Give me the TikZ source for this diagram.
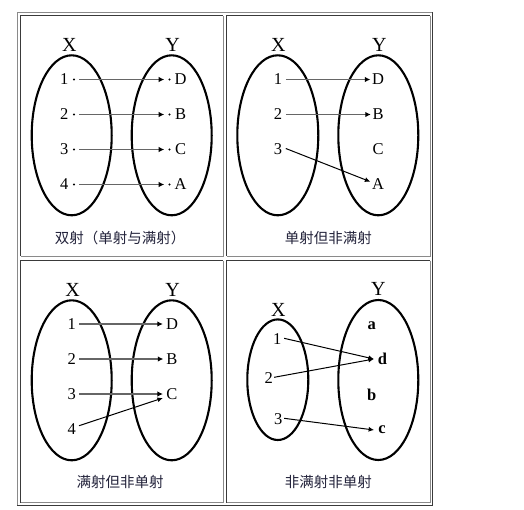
\documentclass[tikz,border=0pt]{standalone}
\usepackage{fontspec}
\setmainfont{Liberation Serif}
\newfontfamily\cjk{Noto Sans CJK SC}
\usetikzlibrary{arrows.meta}
\definecolor{brdlight}{HTML}{8A8A8A}
\definecolor{brddark}{HTML}{3A3A3A}
\definecolor{arrowgray}{HTML}{666666}
\definecolor{capcol}{HTML}{22223A}
\begin{document}
\begin{tikzpicture}[x=1pt,y=-1pt,
  setlbl/.style={font=\fontsize{20}{20}\selectfont, inner sep=0pt},
  elt/.style={font=\fontsize{16.5}{16.5}\selectfont, inner sep=0pt},
  eltb/.style={font=\fontsize{16.5}{16.5}\selectfont\bfseries, inner sep=0pt},
  captxt/.style={font=\cjk\fontsize{14.5}{14.5}\selectfont, text=capcol, inner sep=0pt},
  setell/.style={draw=black, line width=2.1pt},
  garrow/.style={draw=arrowgray, line width=1.7pt, -{Latex[length=5.5pt,width=5.5pt,color=black]}},
  barrow/.style={draw=black, line width=1pt, -{Latex[length=5.5pt,width=5pt]}},
  dotpt/.style={fill=black, circle, inner sep=0pt, minimum size=2.2pt},
  lightline/.style={draw=brdlight, line width=1pt},
  darkline/.style={draw=brddark, line width=1pt}
]
\useasboundingbox (0,0) rectangle (524,509);

% ---------- borders ----------
\draw[lightline] (17,505) -- (17,12) -- (432,12);
\draw[darkline] (432,12) -- (432,505) -- (17,505);
\foreach \xa/\ya/\xb/\yb in {20.5/15.5/223/256, 226.5/15.5/430/256, 20.5/260.5/223/502.5, 226.5/260.5/430/502.5}{
  \draw[darkline] (\xa,\yb) -- (\xa,\ya) -- (\xb,\ya);
  \draw[lightline] (\xb,\ya) -- (\xb,\yb) -- (\xa,\yb);
}

% ---------- panel 1 ----------
\node[setlbl] (aX) at (69.3,45) {X};
\node[setlbl] (aY) at (172.7,45) {Y};
\draw[setell] (71.7,135.3) ellipse [x radius=40, y radius=80];
\draw[setell] (171.7,135.3) ellipse [x radius=40, y radius=80];
\foreach \n/\l/\y in {1/D/79.5, 2/B/114.5, 3/C/149.5, 4/A/184.5}{
  \node[elt] (a\n) at (64.3,\y) {\n};
  \node[elt] (a\l) at (180.5,\y) {\l};
  \node[dotpt] (ap\n) at (74,\y) {};
  \node[dotpt] (aq\n) at (169.5,\y) {};
  \draw[garrow, shorten <=4pt, shorten >=4pt] (ap\n) -- (aq\n);
}
\node[captxt] (acap) at (120,238) {双射（单射与满射）};

% ---------- panel 2 ----------
\node[setlbl] (bX) at (278.3,45) {X};
\node[setlbl] (bY) at (379.3,45) {Y};
\draw[setell] (277.8,135.3) ellipse [x radius=40.5, y radius=80];
\draw[setell] (378.3,135.3) ellipse [x radius=40, y radius=80];
\node[elt] (b1) at (278,79.5) {1};
\node[elt] (b2) at (278,114.5) {2};
\node[elt] (b3) at (278,149.5) {3};
\node[elt] (bD) at (378,79.5) {D};
\node[elt] (bB) at (378,114.5) {B};
\node[elt] (bC) at (378,149.5) {C};
\node[elt] (bA) at (378,184.5) {A};
\draw[garrow] ([xshift=3.5pt]b1.east) -- ([xshift=-1.5pt]bD.west);
\draw[garrow] ([xshift=3.5pt]b2.east) -- ([xshift=-1.5pt]bB.west);
\draw[barrow] ([shift={(3.5,-1)}]b3.east) -- ([shift={(-1.5,-2.8)}]bA.west);
\node[captxt] (bcap) at (328.3,238) {单射但非满射};

% ---------- panel 3 ----------
\node[setlbl] (cX) at (72.7,290) {X};
\node[setlbl] (cY) at (172.7,290) {Y};
\draw[setell] (71.7,380.3) ellipse [x radius=40, y radius=80];
\draw[setell] (171.7,380.3) ellipse [x radius=40, y radius=80];
\node[elt] (c1) at (71.7,324) {1};
\node[elt] (c2) at (71.7,359) {2};
\node[elt] (c3) at (71.7,394) {3};
\node[elt] (c4) at (71.7,429.5) {4};
\node[elt] (cD) at (172,324) {D};
\node[elt] (cB) at (172,359) {B};
\node[elt] (cC) at (172,394) {C};
\draw[garrow] ([xshift=3pt]c1.east) -- ([xshift=-3pt]cD.west);
\draw[garrow] ([xshift=3pt]c2.east) -- ([xshift=-3pt]cB.west);
\draw[garrow] ([xshift=3pt]c3.east) -- ([xshift=-3.4pt]cC.west);
\draw[barrow] ([shift={(3,-3.8)}]c4.east) -- ([shift={(-3.4,4)}]cC.west);
\node[captxt] (ccap) at (120,482.3) {满射但非单射};

% ---------- panel 4 ----------
\node[setlbl] (dX) at (278.3,310) {X};
\node[setlbl] (dY) at (378.3,289.3) {Y};
\draw[setell] (277.8,379.7) ellipse [x radius=30.5, y radius=60.3];
\draw[setell] (378.3,380) ellipse [x radius=40, y radius=80];
\node[elt] (d1) at (277.3,339.3) {1};
\node[elt] (d2) at (268.8,378.3) {2};
\node[elt] (d3) at (278.3,419.3) {3};
\node[eltb] (da) at (371.7,326) {a};
\node[eltb] (dd) at (382.5,359.3) {d};
\node[eltb] (db) at (371.7,395.3) {b};
\node[eltb] (dc) at (382,430) {c};
\draw[barrow] ([shift={(2.5,-1)}]d1.east) -- ([shift={(-3.8,-0.3)}]dd.west);
\draw[barrow] ([shift={(1,-1)}]d2.east) -- ([shift={(-3.8,-0.3)}]dd.west);
\draw[barrow] ([shift={(1.5,-1)}]d3.east) -- ([shift={(-4,0)}]dc.west);
\node[captxt] (dcap) at (328.3,482.3) {非满射非单射};
\end{tikzpicture}
\end{document}
